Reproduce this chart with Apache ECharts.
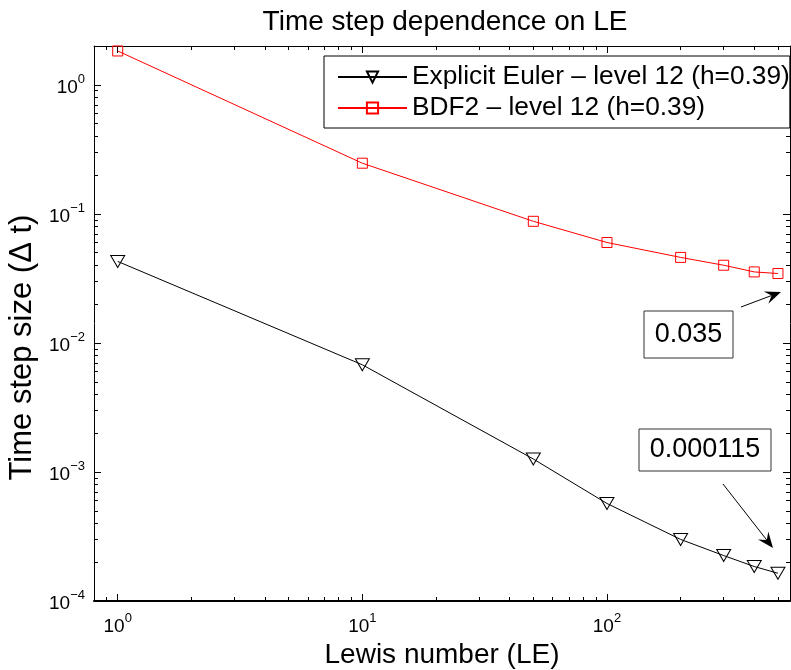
<!DOCTYPE html>
<html>
<head>
<meta charset="utf-8">
<script src="https://cdn.jsdelivr.net/npm/echarts@6/dist/echarts.min.js"></script>
<style>
  html, body { margin: 0; padding: 0; background: #fff; }
  #main { width: 791px; height: 670px; }
</style>
</head>
<body>
<div id="main"></div>
<script>
// Lewis numbers and time step sizes
const lewis = [1, 10, 50, 100, 200, 300, 400, 500];
const eulerDt = [0.0428, 0.00677, 0.00126, 0.00057, 0.000300, 0.000225, 0.000185, 0.000164];
const bdf2Dt = [1.83, 0.247, 0.0876, 0.060, 0.046, 0.040, 0.0355, 0.0345];

const xMajor = [1, 10, 100];
const xMinor = [0.8, 0.9, 2, 3, 4, 5, 6, 7, 8, 9, 20, 30, 40, 50, 60, 70, 80, 90, 200, 300, 400, 500];
const yMajor = [1e-4, 1e-3, 1e-2, 1e-1, 1];
const yMinor = [];
[1e-4, 1e-3, 1e-2, 1e-1, 1].forEach(d => {
    for (let k = 2; k <= 9; k++) if (d * k <= 2) yMinor.push(d * k);
});

const FONT = "'Liberation Sans', Arial, Helvetica, sans-serif";

const chart = echarts.init(document.getElementById('main'));

function powLabel(v) {
    const e = Math.round(Math.log10(v));
    return '{b|10}{s|' + (e < 0 ? '\u2212' + (-e) : e) + '}';
}
const powRich = {
    b: { fontSize: 19, fontFamily: FONT, color: '#000', verticalAlign: 'bottom', lineHeight: 24 },
    s: { fontSize: 13, fontFamily: FONT, color: '#000', verticalAlign: 'top', lineHeight: 24 }
};

// annotation arrow: thin shaft plus filled barbed head
function arrow(x1, y1, x2, y2) {
    const ang = Math.atan2(y2 - y1, x2 - x1);
    const L = 16, W = 6.5, back = 10;
    const c = Math.cos(ang), s = Math.sin(ang);
    const bx = x2 - L * c, by = y2 - L * s;
    const mx = x2 - back * c, my = y2 - back * s;
    return [
        { type: 'line', shape: { x1: x1, y1: y1, x2: mx, y2: my }, style: { stroke: '#000', lineWidth: 1 } },
        { type: 'polygon', shape: { points: [[x2, y2], [bx - W * s, by + W * c], [mx, my], [bx + W * s, by - W * c]] },
          style: { fill: '#000' } }
    ];
}

function axisPair(dim, pos, range, major, minor, main) {
    const common = { type: 'log', min: range[0], max: range[1], position: pos, splitLine: { show: false } };
    const a = Object.assign({}, common, {
        axisLine: { show: true, onZero: false, lineStyle: { color: '#000', width: main && dim === 'x' ? 2 : 1 } },
        axisTick: { show: true, inside: true, length: 7, customValues: major, lineStyle: { color: '#000', width: 1 } },
        axisLabel: main ? { show: true, customValues: major, formatter: powLabel, rich: powRich, margin: dim === 'x' ? 11 : 9 }
                        : { show: false }
    });
    const b = Object.assign({}, common, {
        axisLine: { show: false },
        axisTick: { show: true, inside: true, length: 4, customValues: minor, lineStyle: { color: '#000', width: 1 } },
        axisLabel: { show: false }
    });
    return [a, b];
}

const xRange = [0.8, 560];
const yRange = [1e-4, 2];

const xAxes = axisPair('x', 'bottom', xRange, xMajor, xMinor, true)
    .concat(axisPair('x', 'top', xRange, xMajor, xMinor, false));
xAxes[0].name = 'Lewis number (LE)';
xAxes[0].nameLocation = 'middle';
xAxes[0].nameGap = 31;
xAxes[0].nameTextStyle = { fontSize: 28, fontFamily: FONT, color: '#000', verticalAlign: 'top' };

const yAxes = axisPair('y', 'left', yRange, yMajor, yMinor, true)
    .concat(axisPair('y', 'right', yRange, yMajor, yMinor, false));
yAxes[0].name = 'Time step size (\u0394 t)';
yAxes[0].nameLocation = 'middle';
yAxes[0].nameGap = 55;
yAxes[0].nameTextStyle = { fontSize: 31, fontFamily: FONT, color: '#000', padding: [0, 48, 0, 0] };

chart.setOption({
    backgroundColor: '#fff',
    animation: false,
    title: {
        text: 'Time step dependence on LE',
        left: 440,
        textAlign: 'center',
        top: 3,
        textStyle: { fontSize: 28, fontWeight: 'normal', fontFamily: FONT, color: '#000' }
    },
    grid: { left: 94, right: 1, top: 46, bottom: 69, outerBoundsMode: 'none' },
    legend: {
        orient: 'vertical',
        left: 324,
        top: 56,
        backgroundColor: '#fff',
        borderColor: '#000',
        borderWidth: 1,
        padding: [8, 0, 7, 13],
        itemWidth: 69,
        itemHeight: 14,
        itemGap: 5,
        selectedMode: false,
        textStyle: { fontSize: 26.3, fontFamily: FONT, color: '#000', lineHeight: 26 },
        data: ['Explicit Euler \u2013 level 12 (h=0.39)', 'BDF2 \u2013 level 12 (h=0.39)']
    },
    xAxis: xAxes,
    yAxis: yAxes,
    series: [
        {
            name: 'Explicit Euler \u2013 level 12 (h=0.39)',
            type: 'line',
            xAxisIndex: 0,
            yAxisIndex: 0,
            data: lewis.map((x, i) => [x, eulerDt[i]]),
            symbol: 'triangle',
            symbolRotate: 180,
            symbolSize: [14, 12],
            showAllSymbol: true,
            lineStyle: { color: '#000', width: 1 },
            itemStyle: { color: 'rgba(255,255,255,0)', borderColor: '#000', borderWidth: 1 }
        },
        {
            name: 'BDF2 \u2013 level 12 (h=0.39)',
            type: 'line',
            xAxisIndex: 0,
            yAxisIndex: 0,
            data: lewis.map((x, i) => [x, bdf2Dt[i]]),
            symbol: 'rect',
            symbolSize: 10,
            showAllSymbol: true,
            lineStyle: { color: '#ff0000', width: 1 },
            itemStyle: { color: 'rgba(255,255,255,0)', borderColor: '#ff0000', borderWidth: 1 }
        }
    ],
    graphic: [
        { type: 'rect', shape: { x: 644, y: 311, width: 89, height: 47 }, style: { fill: '#fff', stroke: '#333', lineWidth: 1 } },
        { type: 'text', x: 688.5, y: 334.5, style: { text: '0.035', fontSize: 27, fontFamily: FONT, fill: '#000', align: 'center', verticalAlign: 'middle' } },
        { type: 'rect', shape: { x: 639, y: 429, width: 132, height: 42 }, style: { fill: '#fff', stroke: '#333', lineWidth: 1 } },
        { type: 'text', x: 705, y: 450, style: { text: '0.000115', fontSize: 27, fontFamily: FONT, fill: '#000', align: 'center', verticalAlign: 'middle' } }
    ].concat(arrow(741, 307, 781, 292), arrow(723, 484, 773, 548))
});
</script>
</body>
</html>
